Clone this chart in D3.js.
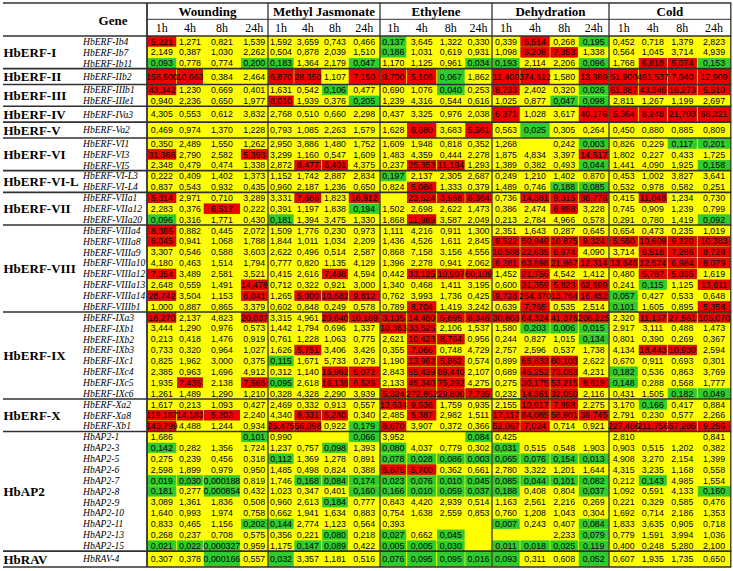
<!DOCTYPE html>
<html><head><meta charset="utf-8">
<script src="https://cdn.jsdelivr.net/npm/d3@7/dist/d3.min.js"></script>
<style>body{margin:0;background:#fff}</style>
</head><body><svg id="chart" width="733" height="571"></svg>
<script>
// ---------------- DATA ----------------
const treatments = ["Wounding","Methyl Jasmonate","Ethylene","Dehydration","Cold"];
const times = ["1h","4h","8h","24h"];
const groupNames = ["HbERF-I","HbERF-II","HbERF-III","HbERF-IV","HbERF-V","HbERF-VI","HbERF-VI-L","HbERF-VII","HbERF-VIII","HbERF-IX","HbERF-X","HbAP2","HbRAV"];
const groupGenes = [
 ["HbERF-Ib4","HbERF-Ib7","HbERF-Ib11"],
 ["HbERF-IIb2"],
 ["HbERF-IIIb1","HbERF-IIIe1"],
 ["HbERF-IVa3"],
 ["HbERF-Va2"],
 ["HbERF-VI1","HbERF-VI3","HbERF-VI5"],
 ["HbERF-VI-L3","HbERF-VI-L4"],
 ["HbERF-VIIa1","HbERF-VIIa12","HbERF-VIIa20"],
 ["HbERF-VIIIa4","HbERF-VIIIa8","HbERF-VIIIa9","HbERF-VIIIa10","HbERF-VIIIa12","HbERF-VIIIa13","HbERF-VIIIa14","HbERF-VIIIb1"],
 ["HbERF-IXa3","HbERF-IXb1","HbERF-IXb2","HbERF-IXb3","HbERF-IXc1","HbERF-IXc4","HbERF-IXc5","HbERF-IXc6"],
 ["HbERF-Xa2","HbERF-Xa8","HbERF-Xb1"],
 ["HbAP2-1","HbAP2-3","HbAP2-5","HbAP2-6","HbAP2-7","HbAP2-8","HbAP2-9","HbAP2-10","HbAP2-11","HbAP2-13","HbAP2-15"],
 ["HbRAV-4"]
];
const wounding = [
[5.221,1.271,0.821,1.539],[2.149,0.387,1.030,2.262],[0.093,0.778,0.774,0.200],
[158.500,10.663,0.384,2.464],
[43.342,1.230,0.669,0.401],[0.940,2.236,0.650,1.977],
[4.305,0.553,0.612,3.832],
[0.469,0.974,1.370,1.228],
[0.350,2.489,1.550,1.262],[31.366,2.790,2.582,5.393],[2.348,0.479,0.474,1.338],
[0.222,0.409,1.402,1.373],[0.837,0.543,0.932,0.435],
[5.314,2.971,0.710,3.289],[2.283,0.376,6.517,0.222],[0.096,0.316,1.771,0.430],
[8.385,0.882,0.445,2.072],[6.045,0.941,1.068,1.788],[3.307,0.546,0.588,3.603],[4.180,0.463,1.514,1.794],
[7.354,3.489,2.581,3.521],[2.648,0.559,1.491,14.478],[28.742,3.504,1.153,6.041],[1.000,0.887,0.865,3.379],
[16.270,2.137,4.823,20.037],[3.444,1.290,0.976,0.573],[0.213,0.418,1.476,0.919],[0.733,0.320,0.964,1.027],
[0.825,1.962,3.000,0.375],[2.385,0.963,1.696,4.912],[1.935,7.435,2.138,7.566],[1.261,1.489,1.290,1.210],
[1.617,0.213,1.093,0.427],[119.187,14.183,5.202,2.240],[143.799,4.488,1.244,0.934],
[1.686,null,null,0.101],[0.142,0.282,1.356,1.724],[0.275,0.239,0.456,0.318],[2.598,1.899,0.979,0.950],
[0.019,0.030,0.000188,0.819],[0.181,0.277,0.000854,0.432],[3.089,1.361,1.836,0.508],[1.640,0.993,1.974,0.758],
[0.833,0.465,1.156,0.202],[0.268,0.237,0.708,0.575],[0.021,0.022,0.000327,0.959],
[0.307,0.378,0.000166,0.557]
];
const methylJasmonate = [
[1.592,3.659,0.743,0.466],[0.504,0.878,2.039,1.510],[0.183,1.364,2.179,0.047],
[6.870,28.350,1.107,7.150],
[1.631,0.542,0.106,0.477],[8.010,1.939,0.376,0.205],
[2.768,0.510,0.660,2.298],
[0.793,1.085,2.263,1.579],
[2.950,3.886,1.480,1.752],[3.299,1.160,0.547,1.609],[2.872,8.477,6.401,4.375],
[1.152,1.742,2.887,2.834],[0.960,2.187,1.236,0.650],
[3.331,7.686,1.823,16.912],[0.391,1.197,1.838,0.194],[0.181,1.394,3.475,1.330],
[1.509,1.776,0.230,0.973],[1.844,1.011,1.034,2.209],[2.622,0.496,0.514,2.587],[0.777,0.820,1.135,4.129],
[0.415,2.616,7.488,4.594],[0.712,0.322,0.921,3.000],[1.265,5.000,10.682,9.812],[0.602,0.848,0.249,0.578],
[3.315,4.961,20.640,10.169],[1.442,1.794,0.696,1.337],[0.761,1.228,1.063,0.775],[1.626,5.751,3.406,3.426],
[0.115,1.671,5.733,0.279],[0.312,1.140,16.962,5.072],[0.095,2.618,16.138,6.525],[0.328,4.328,2.290,3.939],
[2.469,0.332,0.913,0.557],[4.340,8.331,5.280,0.340],[25.475,56.098,0.922,0.179],
[0.990,null,null,0.066],[1.237,0.757,0.098,1.393],[0.112,1.369,1.278,0.891],[1.485,0.498,0.824,0.388],
[1.746,0.168,0.084,0.174],[1.023,0.347,0.401,0.160],[0.960,2.613,0.184,0.777],[0.662,1.941,1.634,0.883],
[0.144,2.774,1.123,0.564],[0.356,0.221,0.080,0.218],[1.175,0.147,0.089,0.422],
[0.032,3.357,1.181,0.516]
];
const ethylene = [
[0.137,3.645,1.322,0.330],[0.186,1.031,0.619,0.931],[1.170,1.125,0.961,0.034],
[9.700,5.106,0.067,1.862],
[0.690,1.076,0.040,0.253],[1.239,4.316,0.544,0.616],
[0.437,3.325,0.976,2.038],
[1.628,6.680,3.683,5.561],
[1.609,1.948,0.818,0.352],[1.483,4.359,0.444,2.278],[0.237,25.353,11.194,1.293],
[0.197,2.137,2.305,2.687],[0.824,5.084,1.333,0.379],
[null,23.524,3.968,8.364],[1.502,2.698,2.622,1.473],[1.868,11.989,3.587,2.049],
[1.111,4.216,0.911,1.300],[1.436,4.526,1.611,2.845],[0.868,7.158,3.156,4.556],[1.396,2.278,0.941,2.062],
[0.442,33.125,10.907,60.109],[1.340,0.468,1.411,3.195],[0.762,3.993,1.736,0.425],[0.789,8.704,1.419,3.242],
[3.135,14.480,5.695,8.346],[10.363,33.525,2.106,1.537],[2.621,10.423,8.764,0.956],[0.355,7.066,0.748,4.729],
[1.190,13.962,5.862,0.574],[2.843,55.439,89.440,2.107],[2.133,45.340,75.292,4.275],[5.324,272.852,29.800,7.735],
[13.634,9.636,1.759,0.935],[2.485,5.387,2.982,1.511],[8.670,3.907,0.372,0.366],
[3.952,null,null,0.084],[0.080,4.037,0.779,0.302],[0.078,0.028,0.086,0.003],[6.875,5.700,0.362,0.661],
[0.023,0.076,0.010,0.045],[0.166,0.010,0.059,0.037],[0.843,4.420,2.939,0.514],[0.754,1.638,2.559,0.853],
[0.393,null,null,null],[0.027,0.662,0.045,null],[0.005,0.005,0.030,null],
[0.076,0.095,0.095,0.016]
];
const dehydration = [
[0.339,5.514,0.268,0.195],[1.098,5.208,7.353,1.338],[0.193,2.114,2.206,0.096],
[11.400,374.612,1.580,13.389],
[8.733,2.402,0.320,0.026],[1.025,0.877,0.047,0.098],
[6.371,1.028,3.617,40.176],
[0.563,0.025,0.305,0.264],
[1.268,null,0.242,0.003],[1.875,4.834,3.397,14.517],[1.389,0.382,0.493,0.044],
[0.249,1.210,1.402,0.870],[1.489,0.746,0.188,0.085],
[0.736,14.381,9.315,36.778],[0.386,2.474,6.898,3.228],[0.213,2.784,4.966,0.578],
[2.351,1.643,0.287,0.645],[9.522,50.949,10.875,9.324],[10.588,22.635,8.674,4.090],[6.281,63.898,21.867,12.314],
[1.452,21.756,4.542,1.412],[0.600,31.359,5.823,62.699],[9.728,254.370,13.764,16.452],[0.639,7.765,0.535,2.514],
[30.803,64.324,41.376,206.225],[1.580,0.203,0.006,0.015],[0.244,0.827,1.015,0.134],[2.757,2.596,0.537,1.738],
[0.899,65.633,60.103,2.622],[0.689,45.252,73.053,4.231],[0.275,30.175,53.215,8.619],[0.232,14.361,32.050,2.116],
[2.155,10.917,7.898,2.275],[17.117,84.085,58.901,36.745],[52.067,7.024,0.714,0.921],
[0.425,null,null,null],[0.031,0.515,0.548,1.903],[0.065,0.076,0.154,0.013],[2.780,3.322,1.201,1.644],
[0.085,0.044,0.101,0.082],[0.188,0.408,0.804,0.037],[1.163,2.561,2.216,0.269],[0.760,1.208,1.043,0.304],
[0.007,0.243,0.407,0.084],[null,null,2.233,0.079],[0.011,0.018,0.025,0.119],
[0.093,0.311,0.608,0.052]
];
const cold = [
[0.452,0.718,1.379,2.823],[0.564,1.045,3.714,4.939],[1.768,6.818,5.074,0.153],
[51.900,491.537,7.040,12.909],
[61.887,43.346,16.273,5.510],[2.811,1.267,1.199,2.697],
[5.364,8.248,21.703,68.321],
[0.450,0.880,0.885,0.809],
[0.826,0.229,0.117,0.201],[1.802,0.227,0.433,1.725],[1.441,4.090,1.925,0.158],
[0.453,1.002,3.827,3.641],[0.532,0.978,0.582,0.251],
[0.415,11.048,1.234,0.730],[0.745,0.909,1.239,0.799],[0.291,0.780,1.419,0.092],
[0.654,0.473,0.235,1.019],[5.560,10.609,9.220,10.383],[3.714,6.518,7.286,8.728],[13.646,12.574,6.984,8.079],
[0.480,5.787,5.035,1.619],[0.241,0.115,1.125,13.611],[0.057,0.427,0.533,0.648],[0.101,1.605,0.895,5.358],
[2.320,11.137,27.561,105.070],[2.917,3.111,0.488,1.473],[0.801,0.390,0.269,0.367],[4.134,18.443,10.930,2.594],
[0.670,0.911,0.693,0.301],[0.182,0.536,0.863,3.769],[0.148,0.288,0.568,1.777],[0.431,1.505,0.182,0.049],
[3.170,0.166,0.417,0.884],[2.791,0.230,0.577,2.266],[227.486,211.756,57.286,9.256],
[2.810,null,null,0.841],[0.903,0.515,1.202,0.382],[4.908,3.270,2.154,1.399],[4.315,3.235,1.168,0.558],
[0.212,0.143,4.985,1.554],[1.092,0.591,4.133,0.160],[0.221,0.329,0.585,0.476],[1.692,0.714,2.186,1.353],
[1.833,3.635,0.905,0.718],[0.779,1.591,3.994,1.036],[0.400,0.248,5.280,2.100],
[0.607,1.935,1.735,0.650]
];
// significance class: up if >= 5, down if <= 0.205, with cells marked differently in the source
const upThreshold = 5, downThreshold = 0.205;
const classOverrides = [
 ["HbERF-VIIa1","Ethylene","8h","up"],
 ["HbERF-IXa3","Ethylene","1h","up"],
 ["HbERF-VIIIa9","Ethylene","4h","none"],
 ["HbERF-IXc1","Methyl Jasmonate","8h","none"],
 ["HbAP2-15","Cold","8h","none"]
];

// ---------------- LAYOUT ----------------
const seriesByTreatment = [wounding, methylJasmonate, ethylene, dehydration, cold];
const genes = groupGenes.flat();
const W = 733;
const colWidths = [[29.7,26.6,37.2,27.5],[26,27.7,26.6,31.7],[26.7,30,28.3,27],[28,30,28.3,30.7],[29.3,29,30,33.5]];
const tableLeft = 3, dataLeft = 147, tableTop = 3, headerMid = 19.3, headerBottom = 36;
const rowH = 10.87, singleGroupH = 15.9;

const colKeys = [], colStarts = [], colW = [];
let cx = dataLeft;
treatments.forEach((t,ti)=>times.forEach((h,hi)=>{
  colKeys.push(t+"|"+h); colStarts.push(cx); colW.push(colWidths[ti][hi]); cx += colWidths[ti][hi];
}));
const dataRight = cx;
const xScale = d3.scaleOrdinal().domain(colKeys).range(colStarts);
const wScale = d3.scaleOrdinal().domain(colKeys).range(colW);

const rowTops = [], rowHs = [], groupBounds = [];
let cy = headerBottom;
groupGenes.forEach(g=>{
  const gh = Math.max(g.length*rowH, singleGroupH);
  const start = cy;
  g.forEach(()=>{ rowTops.push(cy); rowHs.push(gh/g.length); cy += gh/g.length; });
  groupBounds.push([start, cy]);
});
const dataBottom = cy;
const yScale = d3.scaleOrdinal().domain(genes).range(rowTops);
const hScale = d3.scaleOrdinal().domain(genes).range(rowHs);

const overrideMap = new Map(classOverrides.map(o=>[o[0]+"|"+o[1]+"|"+o[2], o[3]]));
const cells = [];
genes.forEach((g,gi)=>treatments.forEach((t,ti)=>times.forEach((h,hi)=>{
  const v = seriesByTreatment[ti][gi][hi];
  let cls = "none";
  if (v != null) cls = v >= upThreshold ? "up" : (v <= downThreshold ? "down" : "none");
  const k = g+"|"+t+"|"+h;
  if (overrideMap.has(k)) cls = overrideMap.get(k);
  cells.push({gene:g, key:t+"|"+h, v, cls});
})));

const fmt = v => v.toFixed(v < 0.001 ? 6 : 3).replace(".", ",");
const fill = {up:"#f20000", down:"#2fcb2f"};
const edge = {up:"#b00000", down:"#2fcb2f"};

const svg = d3.select("#chart");
svg.append("rect").attr("width",W).attr("height",571).attr("fill","#fff");

// yellow base
svg.append("rect").attr("x",dataLeft).attr("y",headerBottom)
  .attr("width",dataRight-dataLeft).attr("height",dataBottom-headerBottom).attr("fill","#ffff00");

// colored cells
svg.append("g").selectAll("rect").data(cells.filter(c=>c.cls!=="none")).join("rect")
  .attr("x",d=>xScale(d.key)+0.8).attr("y",d=>yScale(d.gene)+0.6)
  .attr("width",d=>wScale(d.key)-1.6).attr("height",d=>hScale(d.gene)-1.2)
  .attr("fill",d=>fill[d.cls]).attr("stroke",d=>edge[d.cls]).attr("stroke-width",0.7);

// values
svg.append("g").selectAll("text").data(cells.filter(c=>c.v!=null)).join("text")
  .attr("x",d=>xScale(d.key)+wScale(d.key)/2).attr("y",d=>yScale(d.gene)+hScale(d.gene)/2)
  .attr("dy","0.36em").attr("text-anchor","middle")
  .attr("font-family","'Liberation Sans', Arial, sans-serif").attr("font-size",8.8)
  .attr("fill","#000").text(d=>fmt(d.v));

// gene labels
svg.append("g").selectAll("text").data(genes).join("text")
  .attr("x",83).attr("y",d=>yScale(d)+hScale(d)/2).attr("dy","0.35em")
  .attr("font-family","'Liberation Serif', serif").attr("font-style","italic").attr("font-size",9.6)
  .text(d=>d);

// group labels
svg.append("g").selectAll("text").data(groupNames).join("text")
  .attr("x",tableLeft+0.5).attr("y",(d,i)=>(groupBounds[i][0]+groupBounds[i][1])/2).attr("dy","0.36em")
  .attr("font-family","'Liberation Serif', serif").attr("font-size",13).attr("font-weight","bold")
  .text(d=>d);

// header
const hdr = svg.append("g").attr("font-family","'Liberation Serif', serif");
hdr.append("text").attr("x",113).attr("y",(tableTop+headerBottom)/2+1).attr("dy","0.35em")
  .attr("text-anchor","middle").attr("font-weight","bold").attr("font-size",13).text("Gene");
treatments.forEach((t,ti)=>{
  const x0 = xScale(t+"|1h"), x1 = xScale(t+"|24h")+wScale(t+"|24h");
  hdr.append("text").attr("x",(x0+x1)/2).attr("y",(tableTop+headerMid)/2+0.5).attr("dy","0.35em")
    .attr("text-anchor","middle").attr("font-weight","bold").attr("font-size",13).text(t);
  times.forEach(h=>{
    const k=t+"|"+h;
    hdr.append("text").attr("x",xScale(k)+wScale(k)/2).attr("y",(headerMid+headerBottom)/2+0.5).attr("dy","0.35em")
      .attr("text-anchor","middle").attr("font-size",12).text(h);
  });
});

// grid lines
const lines = svg.append("g").attr("stroke","#303030");
const hLines = [tableTop, headerBottom, ...groupBounds.map(b=>b[1])];
hLines.forEach(y=>lines.append("line").attr("x1",tableLeft).attr("x2",dataRight+0.5).attr("y1",y).attr("y2",y).attr("stroke-width",1.6));
lines.append("line").attr("x1",dataLeft).attr("x2",dataRight).attr("y1",headerMid).attr("y2",headerMid).attr("stroke-width",1);
const vLines = [dataLeft, ...treatments.map(t=>xScale(t+"|24h")+wScale(t+"|24h"))];
vLines.forEach((x,i)=>lines.append("line").attr("x1",x).attr("x2",x).attr("y1",tableTop).attr("y2",dataBottom).attr("stroke-width", i===0?1.8:1.3));
</script></body></html>
